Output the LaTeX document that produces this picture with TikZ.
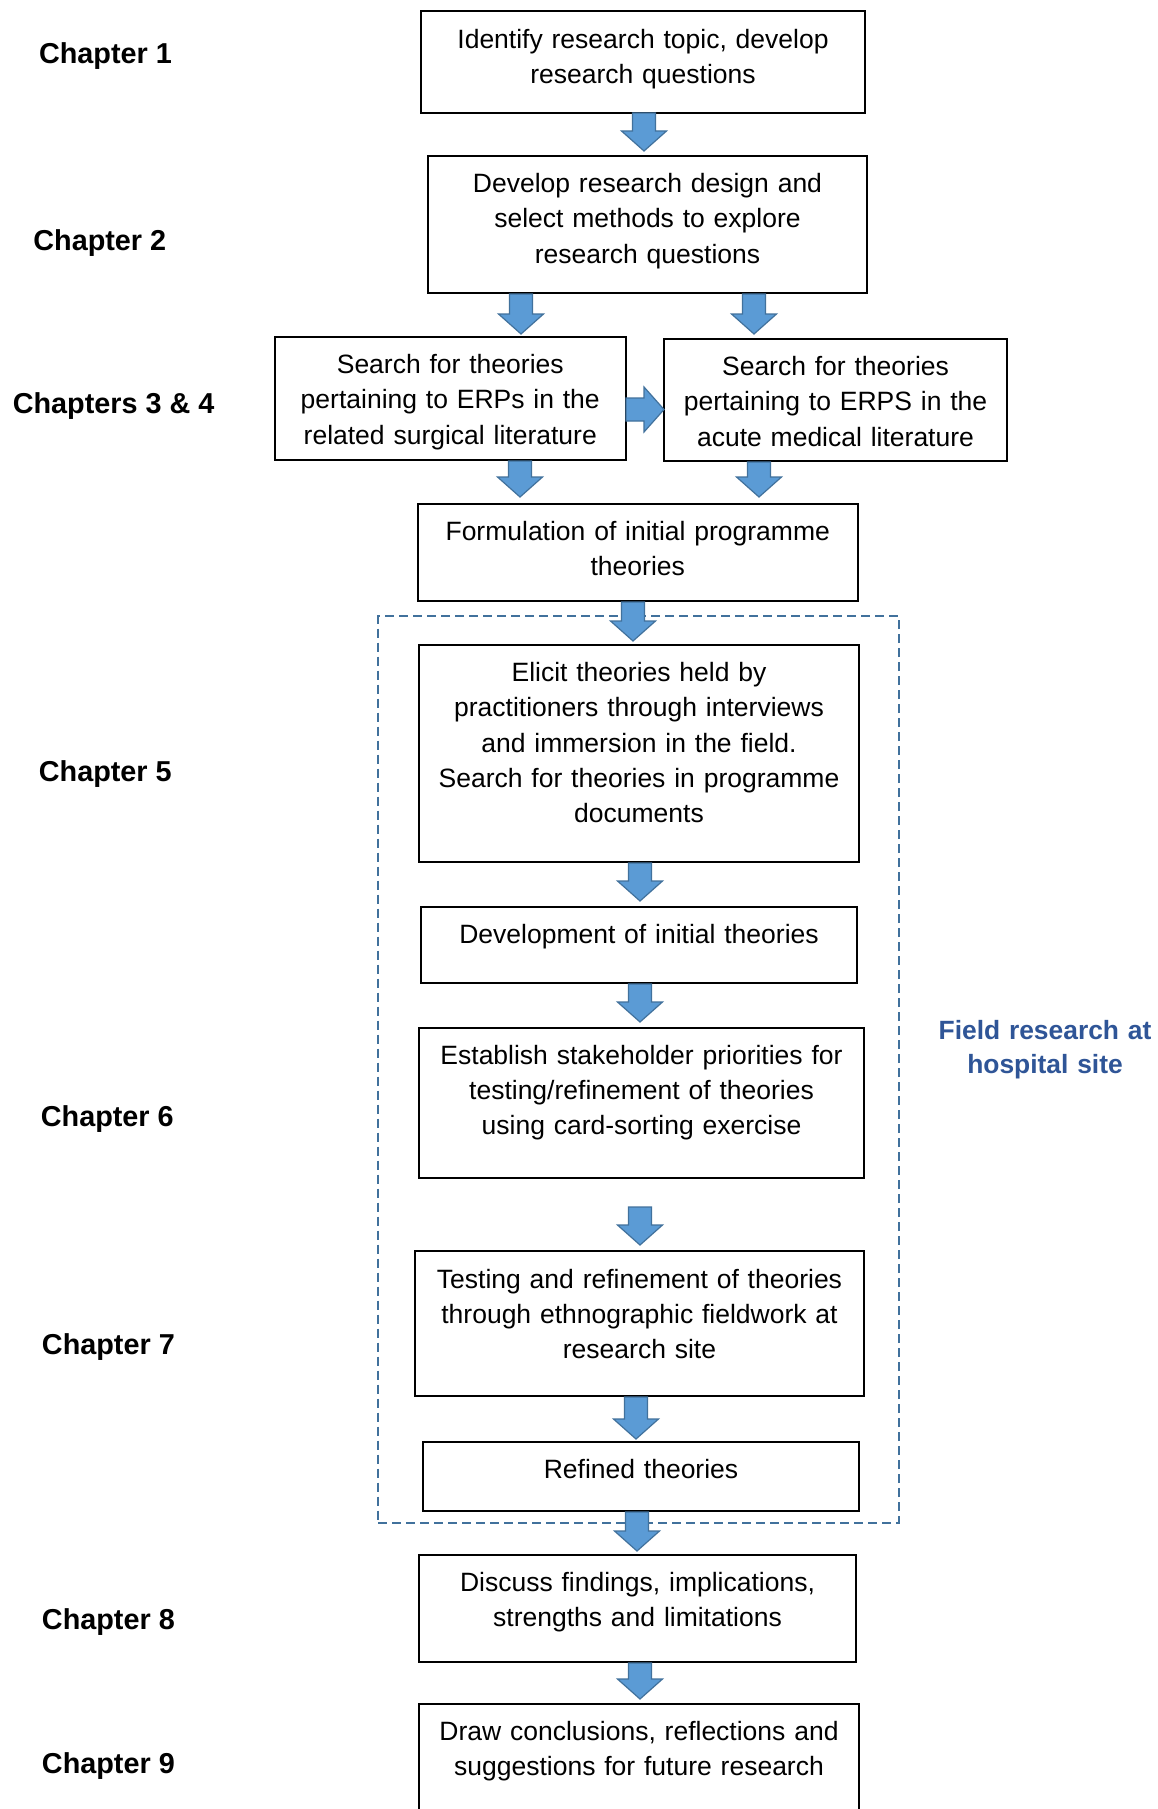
\documentclass[tikz,border=0pt]{standalone}
\usepackage{fontspec}
\setmainfont{Liberation Sans}
\usetikzlibrary{calc}
\definecolor{arrowfill}{HTML}{5B9BD5}
\definecolor{arrowedge}{HTML}{41719C}
\definecolor{fieldblue}{HTML}{2F5597}
\definecolor{dashblue}{HTML}{41719C}

\begin{document}
\begin{tikzpicture}[x=1pt,y=-1pt,
  box/.style={draw=black, line width=2pt, fill=white, inner sep=0pt, outer sep=0pt},
  boxtext/.style={anchor=base, align=center, text width=440pt, inner sep=0pt,
    font=\fontsize{26.5}{35.2}\selectfont},
  chapter/.style={anchor=base, inner sep=0pt, font=\fontsize{28.8}{34}\selectfont\bfseries},
  fieldlabel/.style={anchor=base, align=center, text width=260pt, inner sep=0pt,
    text=fieldblue, font=\fontsize{26.4}{34.6}\selectfont\bfseries},
  fieldframe/.style={draw=dashblue, line width=2pt, dash pattern=on 9pt off 5pt,
    inner sep=0pt, outer sep=0pt},
  blockarrow/.style={draw=arrowedge, fill=arrowfill, line width=1.2pt, line join=miter,
    to path={
      ($(\tikztostart)!11.5pt!90:(\tikztotarget)$)
      -- ($(\tikztotarget)!20pt!(\tikztostart)!11.5pt!-90:(\tikztostart)$)
      -- ($(\tikztotarget)!20pt!(\tikztostart)!22.5pt!-90:(\tikztostart)$)
      -- (\tikztotarget)
      -- ($(\tikztotarget)!20pt!(\tikztostart)!22.5pt!90:(\tikztostart)$)
      -- ($(\tikztotarget)!20pt!(\tikztostart)!11.5pt!90:(\tikztostart)$)
      -- ($(\tikztostart)!11.5pt!-90:(\tikztotarget)$)
      -- cycle}},
]
\useasboundingbox[fill=white] (0,0) rectangle (1158,1809);

% field research frame
\node[fieldframe, minimum width=520.5, minimum height=906.5] (frame) at (638.25,1069.25) {};
\node[fieldlabel] (field) at (1045,1039) {Field research at\\hospital site};

% process boxes
\node[box, minimum width=444, minimum height=101.5] (b1) at (643,62.25) {};
\node[box, minimum width=439, minimum height=137] (b2) at (647.5,224.5) {};
\node[box, minimum width=351.5, minimum height=123] (b3) at (450.25,398.5) {};
\node[box, minimum width=343, minimum height=122] (b4) at (835.5,400) {};
\node[box, minimum width=440.5, minimum height=97] (b5) at (637.75,552.5) {};
\node[box, minimum width=440, minimum height=216.6] (b6) at (639,753.3) {};
\node[box, minimum width=436, minimum height=76.2] (b7) at (639,944.6) {};
\node[box, minimum width=445, minimum height=149.9] (b8) at (641.5,1102.65) {};
\node[box, minimum width=449, minimum height=144.2] (b9) at (639.5,1323.5) {};
\node[box, minimum width=436, minimum height=69.2] (b10) at (641,1476.4) {};
\node[box, minimum width=437, minimum height=107.2] (b11) at (637.5,1608.4) {};
\node[box, minimum width=440, minimum height=130] (b12) at (639,1768.6) {};

% box texts, first baseline a fixed distance below each top edge
\node[boxtext] (t1) at ($(b1.north)+(0,36.7)$) {Identify research topic, develop\\research questions};
\node[boxtext] (t2) at ($(b2.north)+(0,36.7)$) {Develop research design and\\select methods to explore\\research questions};
\node[boxtext] (t3) at ($(b3.north)+(0,36.7)$) {Search for theories\\pertaining to ERPs in the\\related surgical literature};
\node[boxtext] (t4) at ($(b4.north)+(0,36.7)$) {Search for theories\\pertaining to ERPS in the\\acute medical literature};
\node[boxtext] (t5) at ($(b5.north)+(0,36.7)$) {Formulation of initial programme\\theories};
\node[boxtext] (t6) at ($(b6.north)+(0,36.7)$) {Elicit theories held by\\practitioners through interviews\\and immersion in the field.\\Search for theories in programme\\documents};
\node[boxtext] (t7) at ($(b7.north)+(0,36.7)$) {Development of initial theories};
\node[boxtext] (t8) at ($(b8.north)+(0,36.7)$) {Establish stakeholder priorities for\\testing/refinement of theories\\using card-sorting exercise};
\node[boxtext] (t9) at ($(b9.north)+(0,36.7)$) {Testing and refinement of theories\\through ethnographic fieldwork at\\research site};
\node[boxtext] (t10) at ($(b10.north)+(0,36.7)$) {Refined theories};
\node[boxtext] (t11) at ($(b11.north)+(0,36.7)$) {Discuss findings, implications,\\strengths and limitations};
\node[boxtext] (t12) at ($(b12.north)+(0,36.7)$) {Draw conclusions, reflections and\\suggestions for future research};

% chapter labels
\node[chapter] (c1) at (105.5,63.2) {Chapter 1};
\node[chapter] (c2) at (99.8,250) {Chapter 2};
\node[chapter] (c34) at (113.6,413.7) {Chapters 3 \& 4};
\node[chapter] (c5) at (105.3,781.7) {Chapter 5};
\node[chapter] (c6) at (107.3,1126.5) {Chapter 6};
\node[chapter] (c7) at (108.4,1354.9) {Chapter 7};
\node[chapter] (c8) at (108.4,1629.4) {Chapter 8};
\node[chapter] (c9) at (108.4,1773.6) {Chapter 9};

% arrow end points
\coordinate (a1s) at ($(b1.south)+(1,0)$);
\coordinate (a1e) at ($(b2.north)+(-3.5,-5)$);
\coordinate (a2s) at ($(b2.south)+(-126.5,1)$);
\coordinate (a2e) at ($(b3.north)+(70.75,-3)$);
\coordinate (a3s) at ($(b2.south)+(106.5,1)$);
\coordinate (a3e) at ($(b4.north)+(-81.5,-5)$);
\coordinate (ars) at ($(b3.east)+(0,11)$);
\coordinate (are) at ($(b4.west)+(0,9.5)$);
\coordinate (a4s) at ($(b3.south)+(69.75,1)$);
\coordinate (a4e) at ($(b5.north)+(-117.75,-7)$);
\coordinate (a5s) at ($(b4.south)+(-76.5,1)$);
\coordinate (a5e) at ($(b5.north)+(121.25,-7)$);
\coordinate (a6s) at ($(b5.south)+(-4.75,1)$);
\coordinate (a6e) at ($(b6.north)+(-6,-4)$);
\coordinate (a7s) at ($(b6.south)+(1,1.4)$);
\coordinate (a7e) at ($(b7.north)+(1,-5.5)$);
\coordinate (a8s) at ($(b7.south)+(1,1.3)$);
\coordinate (a8e) at ($(b8.north)+(-1.5,-5.7)$);
\coordinate (a9s) at ($(b8.south)+(-1.5,29.4)$);
\coordinate (a9e) at ($(b9.north)+(0.5,-6.4)$);
\coordinate (a10s) at ($(b9.south)+(-3.5,1.4)$);
\coordinate (a10e) at ($(b10.north)+(-5,-2.8)$);
\coordinate (a11s) at ($(b10.south)+(-4,1)$);
\coordinate (a11e) at ($(b11.north)+(-0.5,-3.8)$);
\coordinate (a12s) at ($(b11.south)+(2.5,1)$);
\coordinate (a12e) at ($(b12.north)+(1,-4.6)$);

% block arrows
\foreach \a in {a1,a2,a3,ar,a4,a5,a6,a7,a8,a9,a10,a11,a12}
  \draw[blockarrow] (\a s) to (\a e);
\end{tikzpicture}
\end{document}
